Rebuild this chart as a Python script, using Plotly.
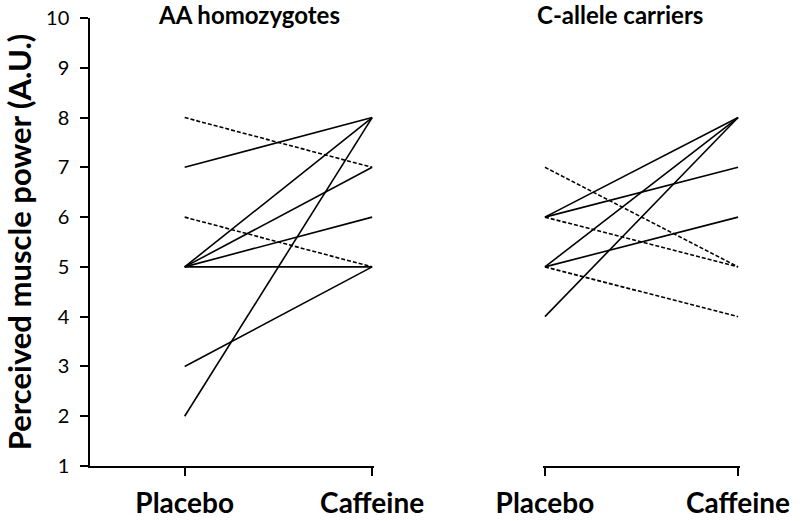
import plotly.graph_objects as go

# ---- data ----
conditions = ["Placebo", "Caffeine"]
y_ticks = [1, 2, 3, 4, 5, 6, 7, 8, 9, 10]

# AA homozygotes: (placebo, caffeine)
aa_solid_placebo = [7, 5, 5, 5, 5, 3, 2]
aa_solid_caffeine = [8, 8, 7, 6, 5, 5, 8]
aa_dashed_placebo = [8, 6]
aa_dashed_caffeine = [7, 5]

# C-allele carriers
c_solid_placebo = [6, 6, 5, 5, 4]
c_solid_caffeine = [8, 7, 8, 6, 8]
c_dashed_placebo = [7, 6, 5]
c_dashed_caffeine = [5, 5, 4]

FONT = "Lato"
fig = go.Figure()


def add_lines(pl, cf, xaxis, dashed):
    for a, b in zip(pl, cf):
        fig.add_trace(go.Scatter(
            x=[0, 1], y=[a, b], mode="lines", xaxis=xaxis, yaxis="y",
            line=dict(color="black", width=1.6,
                      dash="4px,2px" if dashed else "solid"),
            showlegend=False, hoverinfo="skip"))


add_lines(aa_solid_placebo, aa_solid_caffeine, "x", False)
add_lines(aa_dashed_placebo, aa_dashed_caffeine, "x", True)
add_lines(c_solid_placebo, c_solid_caffeine, "x2", False)
add_lines(c_dashed_placebo, c_dashed_caffeine, "x2", True)

ml, mr, mt, mb = 90, 60, 18, 55
pw = 800 - ml - mr
ph = 521 - mt - mb

xcommon = dict(showgrid=False, zeroline=False, showline=True, linecolor="black",
               linewidth=1.5, ticks="outside", ticklen=8, tickwidth=1.5,
               tickcolor="black", tickvals=[0, 1], ticktext=conditions,
               tickfont=dict(family=FONT, size=28, color="black", weight="bold"),
               ticklabelstandoff=4, automargin=False)

fig.update_layout(
    width=800, height=521,
    margin=dict(l=ml, r=mr, t=mt, b=mb),
    plot_bgcolor="white", paper_bgcolor="white",
    xaxis=dict(domain=[0, (374 - ml) / pw], range=[-0.505, 1.01], anchor="y", **xcommon),
    xaxis2=dict(domain=[(543 - ml) / pw, 1.0], range=[-0.01, 1.01], anchor="y", **xcommon),
    yaxis=dict(range=[1, 10], tickvals=y_ticks, showgrid=False, zeroline=False,
               showline=True, linecolor="black", linewidth=1.5, ticks="outside",
               ticklen=8, tickwidth=1.5, tickcolor="black", automargin=False,
               ticklabelstandoff=7,
               tickfont=dict(family=FONT, size=20, color="black"),
               title=dict(text="Perceived muscle power (A.U.)", standoff=5,
                          font=dict(family=FONT, size=31, color="black", weight="bold")),
               anchor="x"),
    annotations=[
        dict(text="AA homozygotes", x=(249 - ml) / pw, y=1 + 4 / ph, xref="paper", yref="paper",
             xanchor="center", yanchor="middle", showarrow=False,
             font=dict(family=FONT, size=24, color="black", weight="bold")),
        dict(text="C-allele carriers", x=(620 - ml) / pw, y=1 + 4 / ph, xref="paper", yref="paper",
             xanchor="center", yanchor="middle", showarrow=False,
             font=dict(family=FONT, size=24, color="black", weight="bold")),
    ],
)

fig.write_html("out.html", config={"displayModeBar": False},
               post_script="document.body.style.margin='0';document.body.style.overflow='hidden';")
